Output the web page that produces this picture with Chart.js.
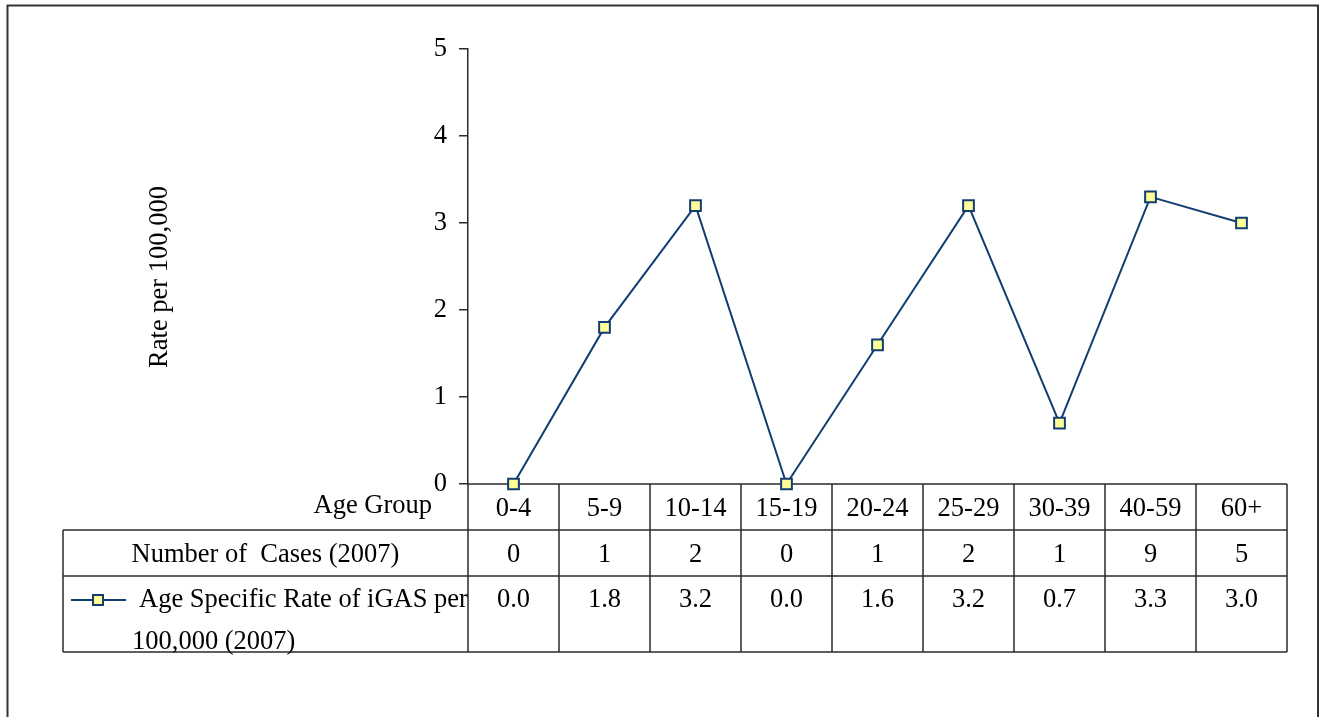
<!DOCTYPE html>
<html>
<head>
<meta charset="utf-8">
<title>Age Specific Rate of iGAS per 100,000 (2007)</title>
<script src="https://cdn.jsdelivr.net/npm/chart.js@4/dist/chart.umd.min.js"></script>
<style>
  html, body { margin: 0; padding: 0; background: #ffffff; }
  #wrap { position: relative; width: 1322px; height: 717px; }
  canvas { display: block; }
</style>
</head>
<body>
<div id="wrap"><canvas id="chart" width="1322" height="717"></canvas></div>
<script>
// Age bands along the category axis
const ageGroups = ['0-4', '5-9', '10-14', '15-19', '20-24', '25-29', '30-39', '40-59', '60+'];
// Number of cases per age band (2007)
const caseCounts = [0, 1, 2, 0, 1, 2, 1, 9, 5];
// Age specific rate per 100,000 (2007)
const rates = [0.0, 1.8, 3.2, 0.0, 1.6, 3.2, 0.7, 3.3, 3.0];

const rowLabelCases = 'Number of  Cases (2007)';
const rowLabelRate = ['Age Specific Rate of iGAS per', '100,000 (2007)'];
const axisTitle = 'Rate per 100,000';
const headerLabel = 'Age Group';

const SERIF = '"Liberation Serif", "Times New Roman", serif';
const FONT_SIZE = 26.5;
const LINE_COLOR = '#123D72';
const MARKER_FILL = '#FFFF99';
const GRID_COLOR = '#2b2b2b';

// Data table beneath the plot, laid out from the category scale
const dataTablePlugin = {
  id: 'dataTable',
  beforeDatasetsDraw(chart) {
    const { ctx, chartArea } = chart;
    const xs = chart.scales.x;
    const n = ageGroups.length;
    const band = xs.getPixelForValue(1) - xs.getPixelForValue(0);
    const left = chartArea.left;
    const right = chartArea.right;
    const top = chartArea.bottom;
    const row1 = top + 46;
    const row2 = row1 + 46;
    const bottom = row2 + 76;
    const tableLeft = 63;

    ctx.save();
    ctx.strokeStyle = GRID_COLOR;
    ctx.lineWidth = 1.5;
    ctx.beginPath();
    // horizontal rules
    ctx.moveTo(left, top); ctx.lineTo(right, top);
    ctx.moveTo(tableLeft, row1); ctx.lineTo(right, row1);
    ctx.moveTo(tableLeft, row2); ctx.lineTo(right, row2);
    ctx.moveTo(tableLeft, bottom); ctx.lineTo(right, bottom);
    // vertical rules
    ctx.moveTo(tableLeft, row1); ctx.lineTo(tableLeft, bottom);
    for (let i = 0; i <= n; i++) {
      const x = Math.round(xs.getPixelForValue(i) - band / 2);
      ctx.moveTo(x, top); ctx.lineTo(x, bottom);
    }
    ctx.stroke();

    ctx.fillStyle = '#000';
    ctx.font = FONT_SIZE + 'px ' + SERIF;
    ctx.textBaseline = 'middle';
    ctx.textAlign = 'center';
    for (let i = 0; i < n; i++) {
      const cx = xs.getPixelForValue(i);
      ctx.fillText(ageGroups[i], cx, top + 25);
      ctx.fillText(String(caseCounts[i]), cx, row1 + 25);
      ctx.fillText(rates[i].toFixed(1), cx, row2 + 24);
    }

    // row headings
    ctx.textAlign = 'right';
    ctx.fillText(headerLabel, 432, top + 22);
    ctx.textAlign = 'center';
    ctx.fillText(rowLabelCases, (tableLeft + left) / 2, row1 + 25);
    ctx.textAlign = 'left';
    ctx.fillText(rowLabelRate[0], 139, row2 + 24);
    ctx.fillText(rowLabelRate[1], 132, row2 + 66);

    // legend key for the series
    const ky = row2 + 24;
    ctx.strokeStyle = LINE_COLOR;
    ctx.lineWidth = 2;
    ctx.beginPath();
    ctx.moveTo(71, ky); ctx.lineTo(126, ky);
    ctx.stroke();
    ctx.fillStyle = MARKER_FILL;
    ctx.fillRect(93, ky - 5, 10, 10);
    ctx.lineWidth = 2;
    ctx.strokeRect(93, ky - 5, 10, 10);

    // vertical axis title
    ctx.fillStyle = '#000';
    ctx.translate(160, 277);
    ctx.rotate(-Math.PI / 2);
    ctx.textAlign = 'center';
    ctx.textBaseline = 'middle';
    ctx.fillText(axisTitle, 0, 0);
    ctx.restore();
  }
};

// Frame around the whole chart
const framePlugin = {
  id: 'frame',
  afterDraw(chart) {
    const { ctx } = chart;
    ctx.save();
    ctx.strokeStyle = '#333';
    ctx.lineWidth = 2;
    ctx.strokeRect(7.5, 5.5, 1310.5, 730);
    ctx.restore();
  }
};

new Chart(document.getElementById('chart'), {
  type: 'line',
  data: {
    labels: ageGroups,
    datasets: [{
      label: 'Age Specific Rate of iGAS per 100,000 (2007)',
      data: rates,
      borderColor: LINE_COLOR,
      borderWidth: 2,
      pointStyle: 'rect',
      pointRadius: 7.6,
      pointHoverRadius: 7.6,
      pointBackgroundColor: MARKER_FILL,
      pointBorderColor: LINE_COLOR,
      pointBorderWidth: 2,
      tension: 0,
      clip: false
    }]
  },
  options: {
    responsive: false,
    animation: false,
    events: [],
    layout: { padding: { left: 0, top: 49, right: 35, bottom: 233 } },
    plugins: {
      legend: { display: false },
      tooltip: { enabled: false },
      title: { display: false }
    },
    scales: {
      x: {
        type: 'category',
        display: false,
        offset: true
      },
      y: {
        min: 0,
        max: 5,
        afterFit(scale) { scale.width = 468; },
        ticks: {
          stepSize: 1,
          color: '#000',
          padding: 12,
          font: { family: SERIF, size: FONT_SIZE }
        },
        grid: {
          drawOnChartArea: false,
          drawTicks: true,
          tickLength: 9,
          color: GRID_COLOR,
          lineWidth: 1.5
        },
        border: { display: true, color: GRID_COLOR, width: 1.5 }
      }
    }
  },
  plugins: [dataTablePlugin, framePlugin]
});
</script>
</body>
</html>
